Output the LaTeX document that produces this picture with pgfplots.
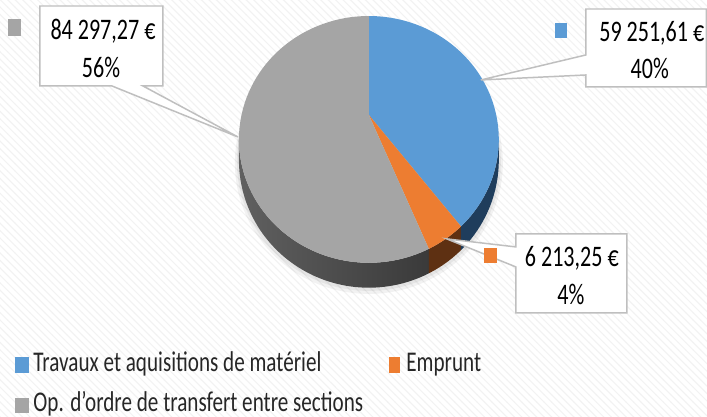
\documentclass[border=0pt]{standalone}
\usepackage{fontspec}
\setmainfont{Carlito}
\usepackage{graphicx}
\usepackage{pgfplots}
\pgfplotsset{compat=1.18}
\usetikzlibrary{patterns}

% data (EUR)
\def\vA{59251.61}% Travaux et aquisitions de materiel
\def\vB{6213.25}%  Emprunt
\def\vC{84297.27}% Op. d'ordre de transfert entre sections
\edef\aA{\fpeval{360*\vA/(\vA+\vB+\vC)}}
\edef\aB{\fpeval{360*(\vA+\vB)/(\vA+\vB+\vC)}}

\definecolor{cblue}{HTML}{5B9BD5}
\definecolor{corange}{HTML}{ED7D31}
\definecolor{cgray}{HTML}{A5A5A5}
\definecolor{sblue}{HTML}{1F3D5C}
\definecolor{sorange}{HTML}{5E3012}
\definecolor{sgrayL}{HTML}{606060}
\definecolor{sgrayM}{HTML}{404040}
\definecolor{sgrayR}{HTML}{3A3A3A}
\definecolor{cbord}{HTML}{BFBFBF}
\newcommand\sq[1]{\scalebox{0.74}[1]{#1}}

\begin{document}
\begin{tikzpicture}[declare function={
  px(\t)=369+127.4*sin(\t)/(1+0.198*cos(\t));
  py(\t)=115-118.6*cos(\t)/(1+0.198*cos(\t));
  pb(\t)=py(\t)+20/(1+0.198*cos(\t));}]
\begin{axis}[scale only axis, width=10cm, height=5.898cm, hide axis,
  xmin=0, xmax=707, ymin=0, ymax=417, y dir=reverse, clip=false]
% background
\fill[white] (axis cs:0,0) rectangle (axis cs:707,417);
\fill[pattern=north west lines, pattern color=black!5] (axis cs:0,0) rectangle (axis cs:707,417);
% soft shadow
\fill[black, opacity=0.05] (axis cs:369,163) ellipse[x radius=134, y radius=131];
\fill[black, opacity=0.05] (axis cs:369,162) ellipse[x radius=132, y radius=129];
% sides
\shade[left color=sgrayL, middle color=sgrayM, right color=sgrayR]
  plot[domain=258.6:\aB, samples=60, variable=\t] ({px(\t)},{py(\t)})
  -- plot[domain=\aB:258.6, samples=60, variable=\t] ({px(\t)},{pb(\t)}) -- cycle;
\fill[sorange]
  plot[domain=\aA:\aB, samples=20, variable=\t] ({px(\t)},{py(\t)})
  -- plot[domain=\aB:\aA, samples=20, variable=\t] ({px(\t)},{pb(\t)}) -- cycle;
\fill[sblue]
  plot[domain=101.4:\aA, samples=30, variable=\t] ({px(\t)},{py(\t)})
  -- plot[domain=\aA:101.4, samples=30, variable=\t] ({px(\t)},{pb(\t)}) -- cycle;
% top faces
\fill[cblue] (axis cs:369,115) -- plot[domain=0:\aA, samples=80, variable=\t] ({px(\t)},{py(\t)}) -- cycle;
\fill[corange] (axis cs:369,115) -- plot[domain=\aA:\aB, samples=20, variable=\t] ({px(\t)},{py(\t)}) -- cycle;
\fill[cgray] (axis cs:369,115) -- plot[domain=\aB:360, samples=120, variable=\t] ({px(\t)},{py(\t)}) -- cycle;
% callouts
\filldraw[fill=white, draw=cbord, line width=0.6pt] (axis cs:40,6) -- (axis cs:163,6) -- (axis cs:163,86) -- (axis cs:143,86)
  -- (axis cs:238,137) -- (axis cs:112,86) -- (axis cs:40,86) -- cycle;
\filldraw[fill=white, draw=cbord, line width=0.6pt] (axis cs:586,9) -- (axis cs:706.5,9) -- (axis cs:706.5,87) -- (axis cs:586,87)
  -- (axis cs:586,75) -- (axis cs:481,80) -- (axis cs:586,55) -- cycle;
\filldraw[fill=white, draw=cbord, line width=0.6pt] (axis cs:516,234) -- (axis cs:627,234) -- (axis cs:627,313) -- (axis cs:516,313)
  -- (axis cs:516,267) -- (axis cs:447,239) -- (axis cs:516,247) -- cycle;
\begin{scope}[every node/.style={font=\fontsize{12}{14}\selectfont, text=black, inner sep=0pt}]
\node at (axis cs:103,31) {\sq{84 297,27 €}};
\node at (axis cs:101,67) {\sq{56\%}};
\node at (axis cs:652,33) {\sq{59 251,61 €}};
\node at (axis cs:650,68) {\sq{40\%}};
\node at (axis cs:572,258) {\sq{6 213,25 €}};
\node at (axis cs:571,295) {\sq{4\%}};
\end{scope}
\fill[cgray] (axis cs:8,19) rectangle (axis cs:21,36);
\fill[cblue] (axis cs:555,23) rectangle (axis cs:567,38);
\fill[corange] (axis cs:484,248) rectangle (axis cs:497,263);
% legend
\fill[cblue] (axis cs:15,357) rectangle (axis cs:29,373);
\fill[corange] (axis cs:389,357) rectangle (axis cs:400,373);
\fill[cgray] (axis cs:15,398) rectangle (axis cs:29,413);
\begin{scope}[every node/.style={font=\fontsize{11.5}{13}\selectfont, text=black!85, inner sep=0pt, anchor=base west}]
\node at (axis cs:33,372) {\sq{Travaux et aquisitions de matériel}};
\node at (axis cs:406,372) {\sq{Emprunt}};
\node at (axis cs:33,412) {\sq{Op. d'ordre de transfert entre sections}};
\end{scope}
\end{axis}
\end{tikzpicture}
\end{document}
